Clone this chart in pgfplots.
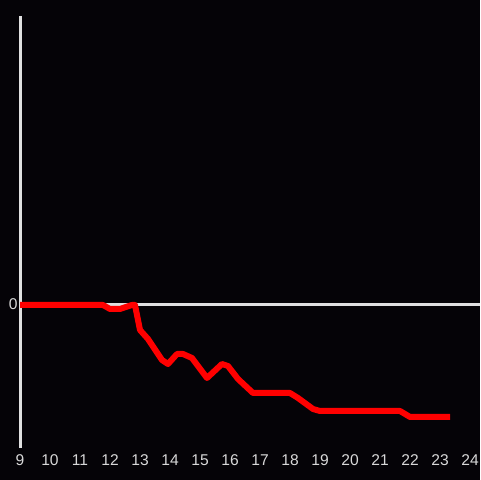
\documentclass[border=0pt]{standalone}
\usepackage{pgfplots}
\pgfplotsset{compat=1.18}
\usepackage{fontspec}
\setmainfont{Liberation Sans}
\definecolor{bg}{HTML}{050307}
\definecolor{ax}{HTML}{E0E0E0}
\definecolor{lbl}{HTML}{D8D8D8}
\begin{document}
\begin{tikzpicture}
\fill[bg] (0pt,0pt) rectangle (240pt,240pt);
\useasboundingbox (0pt,0pt) rectangle (240pt,240pt);
\begin{axis}[
  at={(10pt,16pt)}, anchor=south west,
  scale only axis, width=230pt, height=216pt,
  xmin=9, xmax=24.3333, ymin=-143, ymax=289,
  axis x line=none,
  axis y line=left, y axis line style={-, color=ax, line width=1.5pt},
  ytick={0}, yticklabels={0},
  ytick style={draw=none},
  xtick=\empty,
  clip=false,
  ticklabel style={color=lbl, font=\fontsize{7.8}{9}\selectfont},
  yticklabel style={xshift=4.5pt, yshift=0.5pt},
]
\addplot[color=ax, line width=1.5pt, forget plot] coordinates {(9,0) (24.3333,0)};
\addplot[only marks, mark=none, nodes near coords, point meta=explicit symbolic,
  every node near coord/.style={color=lbl, font=\fontsize{7.8}{9}\selectfont, anchor=center}]
  coordinates {
  (9,-155)[9] (10,-155)[10] (11,-155)[11] (12,-155)[12] (13,-155)[13] (14,-155)[14]
  (15,-155)[15] (16,-155)[16] (17,-155)[17] (18,-155)[18] (19,-155)[19] (20,-155)[20]
  (21,-155)[21] (22,-155)[22] (23,-155)[23] (24,-155)[24]};
\addplot[color=red, line width=3pt, line join=round, line cap=butt] coordinates {
 (9,0) (11.767,0) (12.0,-4) (12.333,-4) (12.733,0) (12.833,0) (13.0,-25)
 (13.267,-34) (13.733,-55) (13.933,-59) (14.233,-49) (14.433,-49) (14.733,-53)
 (15.233,-73) (15.733,-59) (15.933,-61) (16.267,-74) (16.767,-88) (18.0,-88)
 (18.267,-93) (18.767,-104) (19.0,-106) (21.667,-106) (22.0,-112) (23.333,-112)};
\end{axis}
\end{tikzpicture}
\end{document}
